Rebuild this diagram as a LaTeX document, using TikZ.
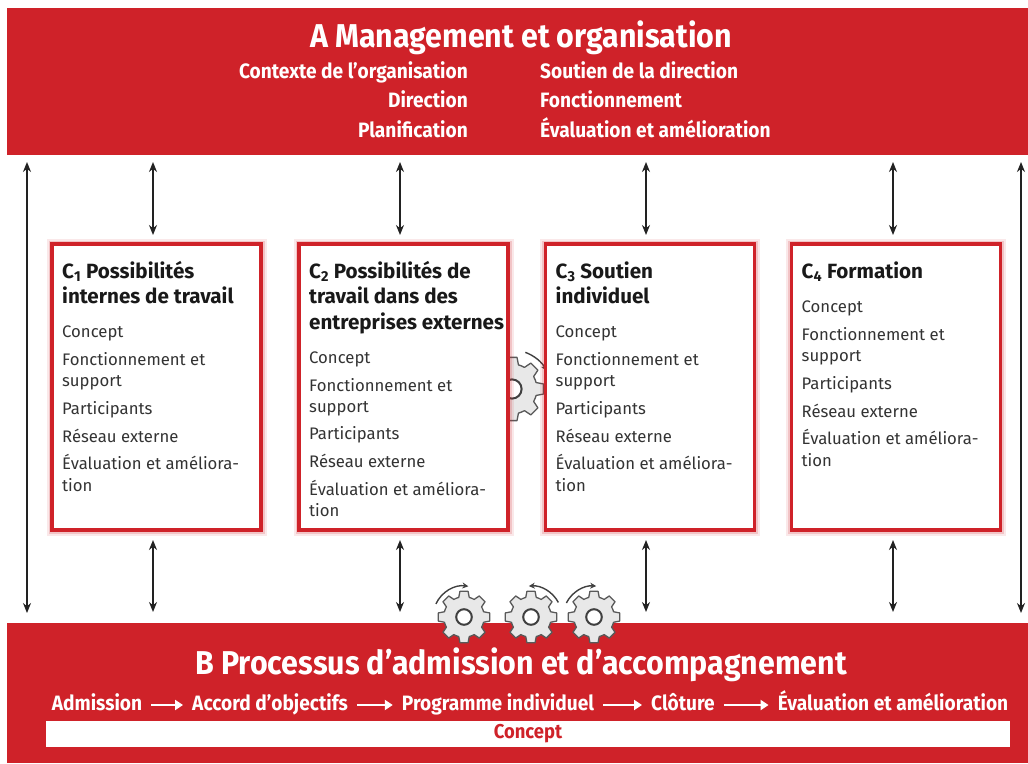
\documentclass[tikz,border=0pt]{standalone}
\usepackage{fontspec}
\setmainfont{Fira Sans}
\newfontfamily\hdrfont{Fira Sans}[FakeStretch=0.92]
\usetikzlibrary{calc,arrows.meta}
\definecolor{cred}{HTML}{CF2229}
\definecolor{ctext}{HTML}{333333}
\definecolor{carrow}{HTML}{222222}
\newcommand\gearat[2]{%
  \pgfmathsetmacro\gR{#2}\pgfmathsetmacro\gr{0.78*#2}\pgfmathsetmacro\gh{0.3*#2}%
  \draw[gearfill] ($(#1)+(-9:\gR pt)$) \foreach \a in {0,45,...,315}{ -- ($(#1)+(\a-9:\gR pt)$) -- ($(#1)+(\a+9:\gR pt)$) -- ($(#1)+(\a+15:\gr pt)$) -- ($(#1)+(\a+22.5:\gr pt)$) -- ($(#1)+(\a+30:\gr pt)$)} -- cycle;
  \draw[gearhole] (#1) circle[radius=\gh pt];
}
\begin{document}
\begin{tikzpicture}[x=1pt,y=-1pt,
  band/.style={fill=cred, draw=none, inner sep=0pt, outer sep=0pt},
  hdr/.style={font=\hdrfont\bfseries\fontsize{20.8}{20.8}\selectfont, text=white, inner sep=0pt},
  bigtitle/.style={font=\hdrfont\bfseries\fontsize{33}{33}\selectfont, text=white, inner sep=0pt, anchor=base},
  cbox/.style={draw=cred, line width=3.6pt, fill=white, minimum width=209pt, minimum height=286pt, inner sep=0pt, outer sep=0pt,
    preaction={draw=cred, fill=none, draw opacity=0.10, line width=11pt},
    preaction={draw=cred, fill=none, draw opacity=0.18, line width=7pt}},
  ctitle/.style={font=\bfseries\fontsize{20.6}{20.6}\selectfont, text=black!90, inner sep=0pt, anchor=base west},
  cbody/.style={font=\fontsize{16.7}{16.7}\selectfont, text=ctext, inner sep=0pt, anchor=base west},
  darr/.style={draw=carrow, line width=1.6pt, {Stealth[length=10pt,width=8pt]}-{Stealth[length=10pt,width=8pt]}},
  proc/.style={font=\hdrfont\bfseries\fontsize{20.8}{20.8}\selectfont, text=white, inner sep=0pt, text height=13pt, text depth=3pt, anchor=base},
  parr/.style={draw=white, line width=2.2pt, -{Triangle[length=8pt,width=10pt]}, shorten <=9pt, shorten >=9pt},
  gearfill/.style={fill=gray!18, draw=black!65, line width=1.3pt, line join=round},
  gearhole/.style={fill=white, draw=black!75, line width=2pt},
  rot/.style={draw=black!75, line width=1.4pt, -{Stealth[length=6pt,width=6pt]}}
]
\useasboundingbox (0,0) rectangle (1028,763);
\fill[white] (0,0) rectangle (1028,763);

% bands
\node[band, minimum width=1021pt, minimum height=147pt] (A) at (517.5,81.5) {};
\node[band, minimum width=1021pt, minimum height=140pt] (B) at (517.5,693) {};

% header texts
\node[bigtitle] (Atitle) at (521,47) {A Management et organisation};
\node[hdr, anchor=base east] (a1) at (468,78) {Contexte de l’organisation};
\node[hdr, anchor=base east] (a2) at (468,107) {Direction};
\node[hdr, anchor=base east] (a3) at (468,137) {Planification};
\node[hdr, anchor=base west] (a4) at (540,78) {Soutien de la direction};
\node[hdr, anchor=base west] (a5) at (540,107) {Fonctionnement};
\node[hdr, anchor=base west] (a6) at (540,137) {Évaluation et amélioration};

% middle gear (behind boxes)
\coordinate (g0) at (512,389);
\gearat{g0}{32}
\draw[rot] ($(g0)+(70:39pt)$) arc[start angle=70, end angle=28, radius=39pt];

% boxes
\node[cbox] (c1) at (156.5,387) {};
\node[cbox] (c2) at (403.5,387) {};
\node[cbox] (c3) at (650,387) {};
\node[cbox] (c4) at (896,387) {};

% box texts
\node[ctitle] (c1t1) at ($(c1.north west)+(10,34)$) {C\textsubscript{1} Possibilités};
\node[ctitle] (c1t2) at ($(c1.north west)+(10,59)$) {internes de travail};
\foreach \dy/\t [count=\k] in {93/Concept,121/Fonctionnement et,142/support,170/Participants,198/Réseau externe,225/Évaluation et améliora-,247/tion}
  \node[cbody] (c1b\k) at ($(c1.north west)+(10,\dy)$) {\t};

\node[ctitle] (c2t1) at ($(c2.north west)+(10,34)$) {C\textsubscript{2} Possibilités de};
\node[ctitle] (c2t2) at ($(c2.north west)+(10,59)$) {travail dans des};
\node[ctitle] (c2t3) at ($(c2.north west)+(10,85)$) {entreprises externes};
\foreach \dy/\t [count=\k] in {119/Concept,147/Fonctionnement et,168/support,195/Participants,223/Réseau externe,251/Évaluation et améliora-,272/tion}
  \node[cbody] (c2b\k) at ($(c2.north west)+(10,\dy)$) {\t};

\node[ctitle] (c3t1) at ($(c3.north west)+(10,34)$) {C\textsubscript{3} Soutien};
\node[ctitle] (c3t2) at ($(c3.north west)+(10,59)$) {individuel};
\foreach \dy/\t [count=\k] in {93/Concept,121/Fonctionnement et,142/support,170/Participants,198/Réseau externe,225/Évaluation et améliora-,247/tion}
  \node[cbody] (c3b\k) at ($(c3.north west)+(10,\dy)$) {\t};

\node[ctitle] (c4t1) at ($(c4.north west)+(10,34)$) {C\textsubscript{4} Formation};
\foreach \dy/\t [count=\k] in {68/Concept,96/Fonctionnement et,117/support,145/Participants,173/Réseau externe,200/Évaluation et améliora-,222/tion}
  \node[cbody] (c4b\k) at ($(c4.north west)+(10,\dy)$) {\t};

% vertical arrows
\coordinate (xl) at (27,0);
\coordinate (xr) at (1021,0);
\coordinate (x1) at (153,0);
\coordinate (x2) at (400,0);
\coordinate (x3) at (646,0);
\coordinate (x4) at (893,0);
\draw[darr, shorten <=7pt, shorten >=10pt] (A.south -| xl) -- (B.north -| xl);
\draw[darr, shorten <=7pt, shorten >=10pt] (A.south -| xr) -- (B.north -| xr);
\foreach \i in {1,2,3,4}{
  \draw[darr, shorten <=7pt, shorten >=9pt] (A.south -| x\i) -- (c\i.north -| x\i);
  \draw[darr, shorten <=10pt, shorten >=11pt] (c\i.south -| x\i) -- (B.north -| x\i);
}

% bottom gears
\coordinate (g1) at (464,617);
\coordinate (g2) at (531,617);
\coordinate (g3) at (594,617);
\gearat{g1}{26}
\gearat{g2}{26}
\gearat{g3}{26}
\draw[rot] ($(g1)+(155:31pt)$) arc[start angle=155, end angle=82, radius=31pt];
\draw[rot] ($(g2)+(28:31pt)$) arc[start angle=28, end angle=94, radius=31pt];
\draw[rot] ($(g3)+(153:31pt)$) arc[start angle=153, end angle=86, radius=31pt];

% bottom texts
\node[bigtitle] (Btitle) at (521,674) {B Processus d’admission et d’accompagnement};
\node[proc] (p1) at (97,710) {Admission};
\node[proc] (p2) at (270,710) {Accord d’objectifs};
\node[proc] (p3) at (498,710) {Programme individuel};
\node[proc] (p4) at (683,710) {Clôture};
\node[proc] (p5) at (893,710) {Évaluation et amélioration};
\draw[parr] (p1.east) -- (p2.west);
\draw[parr] (p2.east) -- (p3.west);
\draw[parr] (p3.east) -- (p4.west);
\draw[parr] (p4.east) -- (p5.west);
\node[fill=white, minimum width=964pt, minimum height=26pt, inner sep=0pt, text=cred, font=\hdrfont\bfseries\fontsize{20}{20}\selectfont] (concept) at (528,734) {Concept};
\end{tikzpicture}
\end{document}
